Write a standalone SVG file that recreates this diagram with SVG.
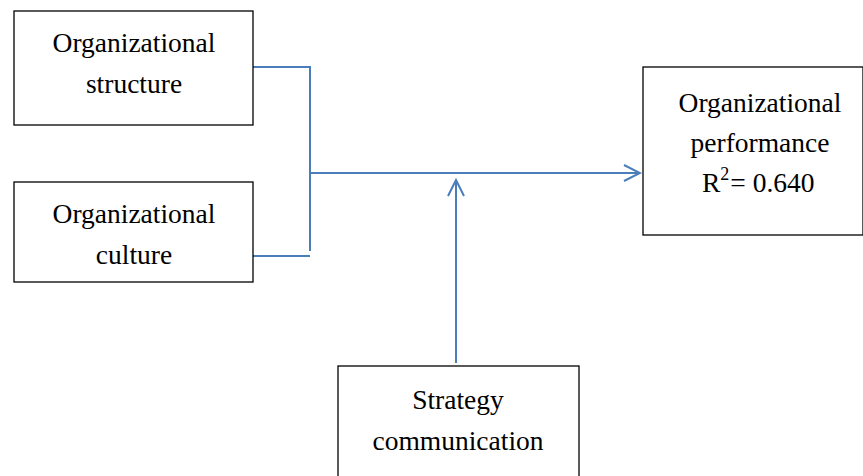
<svg xmlns="http://www.w3.org/2000/svg" width="863" height="476" viewBox="0 0 863 476">
<defs>
<style>
.box{fill:#fff;stroke:#000;stroke-width:1.3}
.t{font-family:"Liberation Serif","Times New Roman",serif;font-size:27.5px;fill:#000;text-anchor:middle}
.c{fill:none;stroke:#4a7ebb;stroke-width:2}
</style>
<marker id="ah" viewBox="0 0 20 20" refX="18" refY="10" markerWidth="20" markerHeight="20" markerUnits="userSpaceOnUse" orient="auto">
<path d="M2,2 L18,10 L2,18" fill="none" stroke="#4a7ebb" stroke-width="2"/>
</marker>
</defs>
<rect width="863" height="476" fill="#fff"/>
<g id="connectors">
<path class="c" d="M253,67 H310 V251"/>
<path class="c" d="M253,256 H310"/>
<path class="c" d="M310,173 H640" marker-end="url(#ah)"/>
<path class="c" d="M456,363 V180" marker-end="url(#ah)"/>
</g>
<g id="structure">
<rect class="box" x="14" y="11" width="239" height="114"/>
<text class="t" x="134" y="52">Organizational</text>
<text class="t" x="134" y="93">structure</text>
</g>
<g id="culture">
<rect class="box" x="14" y="182" width="239" height="100"/>
<text class="t" x="134" y="223">Organizational</text>
<text class="t" x="134" y="264">culture</text>
</g>
<g id="performance">
<rect class="box" x="643" y="67" width="220" height="168"/>
<text class="t" x="760" y="112">Organizational</text>
<text class="t" x="760" y="152">performance</text>
<text class="t" x="702" y="192" style="text-anchor:start">R<tspan font-size="18" dy="-12">2</tspan><tspan dy="12" dx="1">= 0.640</tspan></text>
</g>
<g id="strategy">
<rect class="box" x="338" y="366" width="241" height="120"/>
<text class="t" x="458" y="409">Strategy</text>
<text class="t" x="458" y="450">communication</text>
</g>
</svg>
